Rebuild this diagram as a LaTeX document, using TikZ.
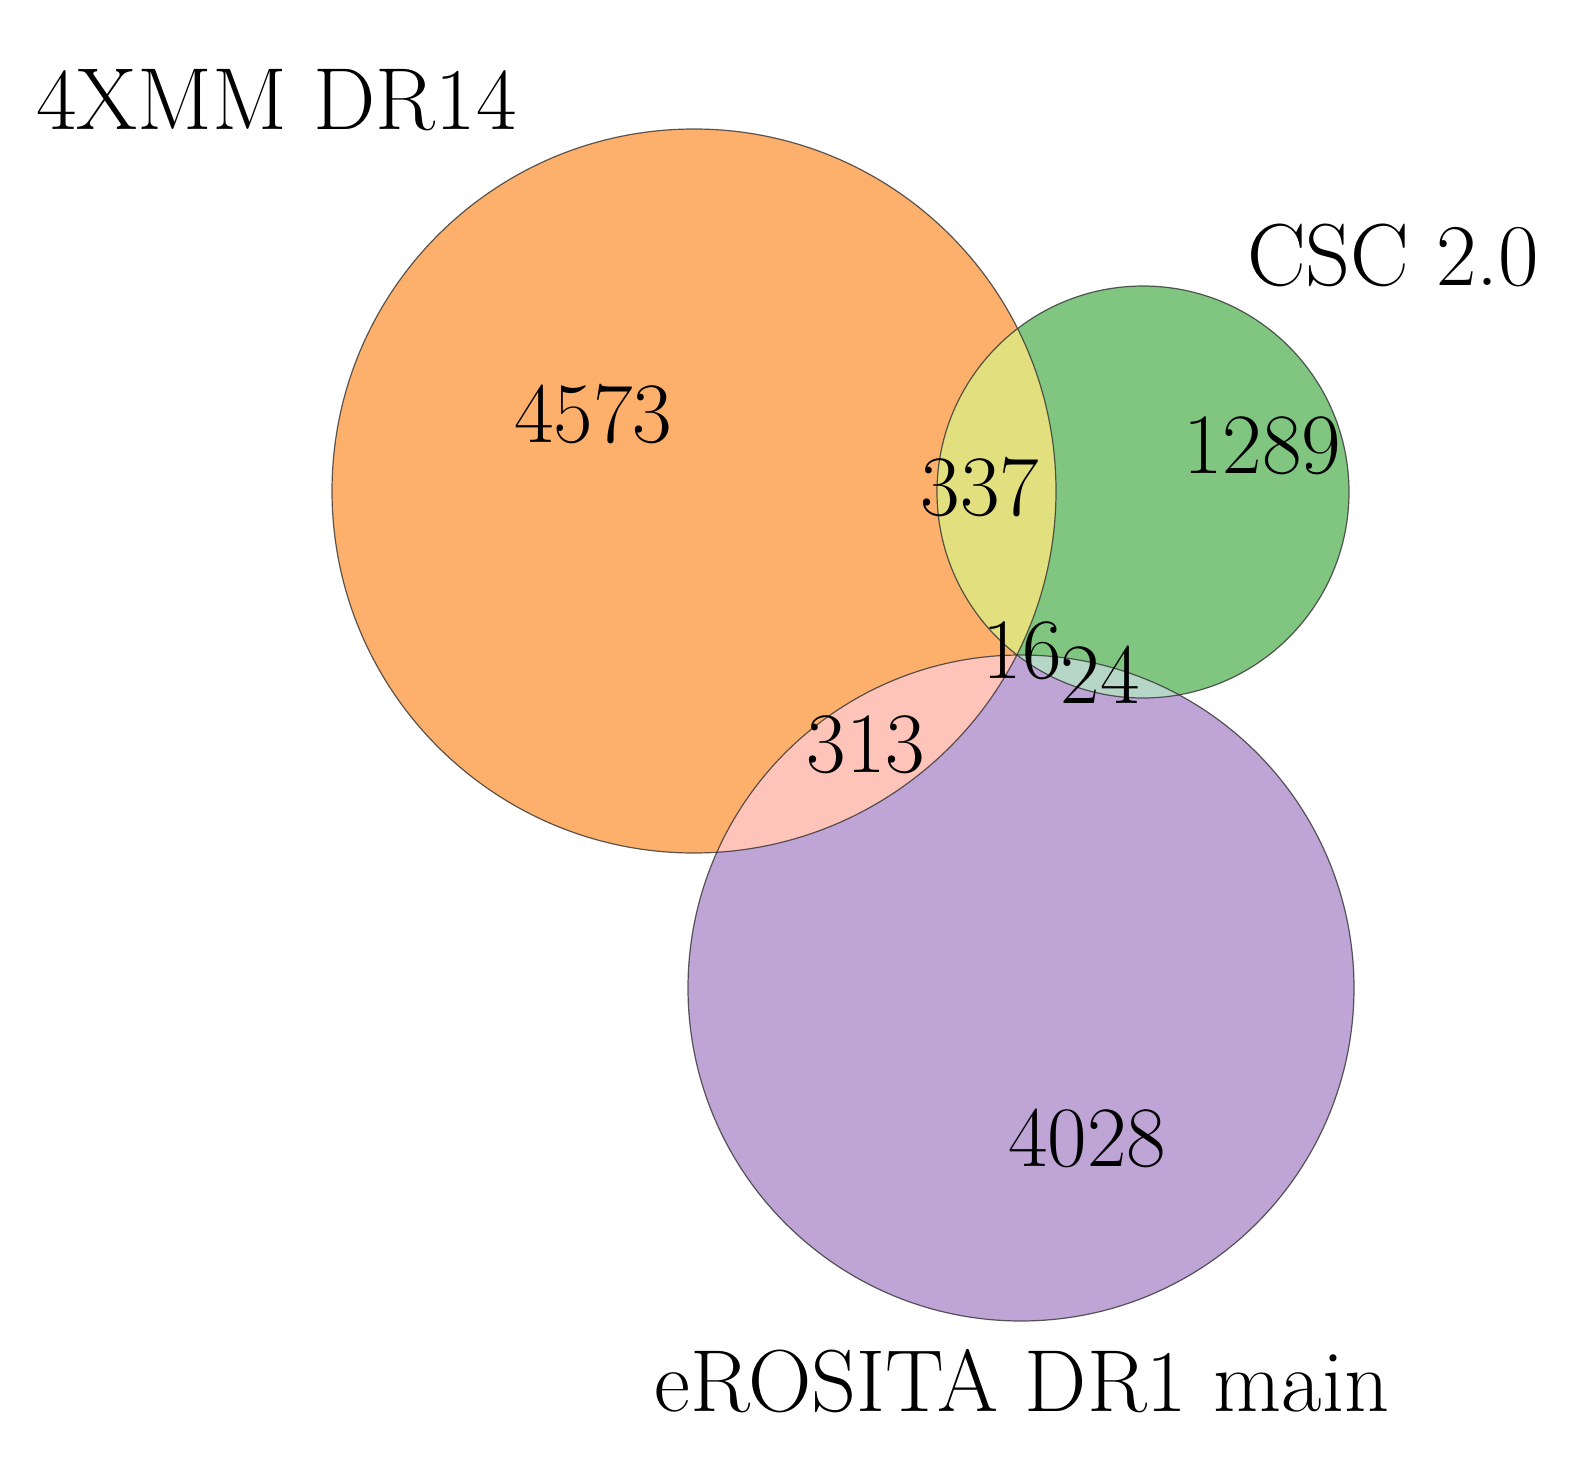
\documentclass[tikz,border=0pt]{standalone}
\definecolor{corange}{RGB}{253,176,108}
\definecolor{cgreen}{RGB}{128,198,128}
\definecolor{cpurple}{RGB}{191,164,214}
\definecolor{cyellow}{RGB}{226,223,126}
\definecolor{cpink}{RGB}{255,196,185}
\definecolor{cteal}{RGB}{182,215,200}
\definecolor{ctriple}{RGB}{214,205,180}
\begin{document}
\begin{tikzpicture}[x=1pt,y=-1pt,
  edge/.style={draw=black!80,draw opacity=0.8,line width=1.2pt},
  lbl/.style={inner sep=0pt,anchor=base,font=\fontsize{86}{100}\selectfont},
  ttl/.style={inner sep=0pt,anchor=base,font=\fontsize{88}{100}\selectfont}]
\useasboundingbox (0,0) rectangle (1575,1466);
\def\orangecirc{(694,491) circle[radius=362]}
\def\greencirc{(1143,492) circle[radius=206]}
\def\purplecirc{(1021,988) circle[radius=333]}
\fill[corange] \orangecirc;
\fill[cgreen] \greencirc;
\fill[cpurple] \purplecirc;
\begin{scope}\clip \orangecirc; \fill[cyellow] \greencirc; \end{scope}
\begin{scope}\clip \orangecirc; \fill[cpink] \purplecirc; \end{scope}
\begin{scope}\clip \greencirc; \fill[cteal] \purplecirc; \end{scope}
\begin{scope}\clip \orangecirc; \clip \greencirc; \fill[ctriple] \purplecirc; \end{scope}
\draw[edge] \orangecirc;
\draw[edge] \greencirc;
\draw[edge] \purplecirc;
\node[lbl] (n4573) at (593,442) {4573};
\node[lbl] (n337) at (980,515) {337};
\node[lbl] (n1289) at (1262,473) {1289};
\node[lbl] (n16) at (1022,678) {16};
\node[lbl] (n24) at (1100,703) {24};
\node[lbl] (n313) at (866,772) {313};
\node[lbl] (n4028) at (1087,1166) {4028};
\node[ttl,anchor=base west] (tx) at (36,130) {4XMM DR14};
\node[ttl] (tc) at (1393,286) {CSC 2.0};
\node[ttl] (te) at (1022,1411) {eROSITA DR1 main};
\end{tikzpicture}
\end{document}
